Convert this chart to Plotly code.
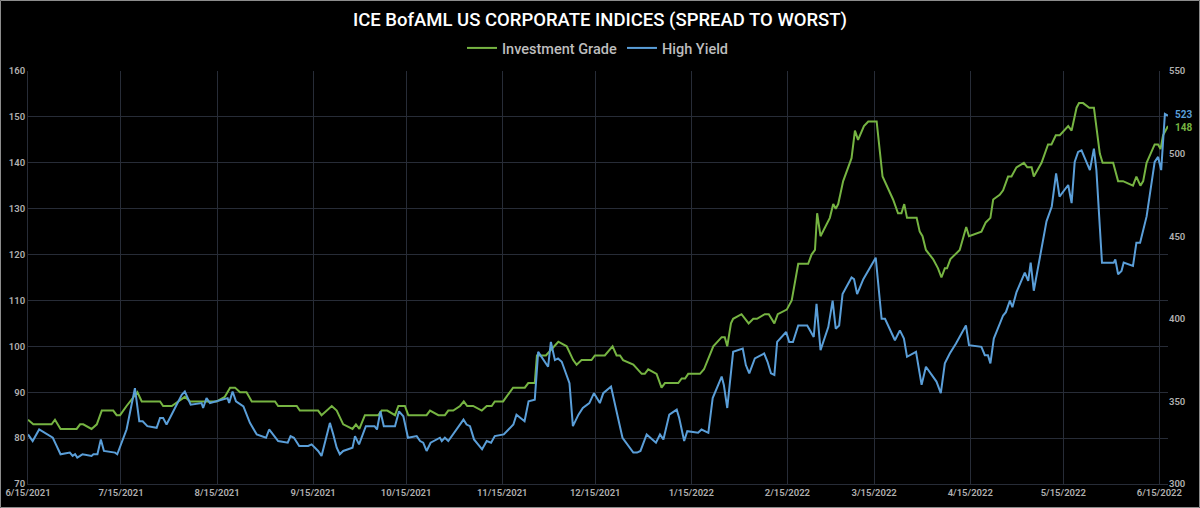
import datetime as dt
import plotly.graph_objects as go

# ---- data ----
start_date = dt.datetime(2021, 6, 15)

# Investment Grade: days after 2021-06-15, spread (bp)
ig_day = [0, 1.7, 7.6, 8.7, 10.5, 15.7, 16.8, 17.8, 20.5, 22.2, 23.8, 27.5, 28.6, 29.7, 31.8, 35.3, 36.7,
          42.6, 43.6, 46.4, 50.6, 52.3, 60.9, 63.5, 65.2, 66.8, 68.4, 70.5, 72.2, 79.7, 80.7, 86.7, 87.7,
          93.6, 94.7, 98.0, 99.6, 101.7, 104.7, 105.8, 106.9, 108.7, 113.0, 114.1, 115.9, 118.4, 119.5,
          121.6, 122.7, 128.6, 129.7, 132.4, 134.5, 135.6, 137.2, 139.4, 140.6, 141.7, 143.6, 146.4, 148.0,
          149.6, 150.6, 153.3, 156.5, 160.3, 161.4, 163.5, 164.2, 167.1, 171.1, 173.8, 175.9, 177.0, 178.6,
          181.8, 182.9, 186.1, 188.6, 189.9, 191.0, 192.0, 195.3, 198.0, 199.0, 200.1, 202.8, 204.4, 205.5,
          209.8, 210.9, 212.0, 213.0, 216.8, 218.1, 219.4, 221.1, 223.8, 224.8, 225.6, 226.8, 227.5, 230.2,
          232.5, 234.0, 235.2, 237.7, 239.0, 240.8, 241.9, 244.8, 246.4, 248.5, 251.7, 252.8, 253.9, 254.6,
          255.7, 258.7, 259.8, 260.6, 261.4, 263.0, 265.7, 266.8, 267.8, 269.7, 271.1, 273.8, 275.7, 277.0,
          279.1, 280.7, 281.8, 282.7, 283.6, 286.7, 287.7, 288.6, 289.7, 292.0, 293.6, 294.7, 295.8, 296.5,
          297.6, 300.6, 302.7, 303.6, 307.6, 309.0, 310.5, 311.4, 313.5, 314.6, 316.2, 317.3, 318.9, 321.3,
          322.4, 323.8, 324.5, 327.0, 329.1, 330.2, 331.6, 332.9, 335.6, 336.7, 338.3, 339.1, 340.4, 342.4,
          343.9, 345.8, 346.7, 350.1, 351.7, 353.3, 356.5, 357.6, 358.9, 359.8, 360.9, 363.5, 364.6, 365.4,
          366.2, 367.8]
ig_val = [84, 83, 83, 84, 82, 82, 83, 83, 82, 83, 86, 86, 85, 85, 87, 90, 88,
          88, 87, 87, 89, 88, 88, 89, 91, 91, 90, 90, 88, 88, 87, 87, 86,
          86, 85, 87, 86, 83, 82, 83, 82, 85, 85, 86, 86, 85, 87,
          87, 85, 85, 86, 85, 85, 86, 86, 87, 88, 87, 87, 86, 87,
          87, 88, 88, 91, 91, 92, 92, 98, 98, 101, 100, 97, 96, 97,
          97, 98, 98, 100, 98, 98, 97, 96, 94, 94, 95, 94, 91, 92,
          92, 93, 93, 94, 94, 95, 97, 100, 102, 102, 100, 105, 106, 107,
          105, 106, 106, 107, 107, 105, 107, 108, 110, 118, 118, 120, 121, 129,
          124, 128, 131, 130, 131, 136, 141, 147, 145, 148, 149, 149, 137, 135,
          132, 129, 129, 131, 128, 128, 125, 124, 121, 119, 117, 115, 117, 117,
          119, 121, 126, 124, 125, 127, 128, 132, 133, 134, 137, 137, 139, 140,
          139, 139, 137, 140, 144, 144, 146, 146, 148, 147, 152, 153, 153, 152,
          152, 142, 140, 140, 136, 136, 135, 137, 135, 136, 140, 144, 144, 143,
          146, 148]

# High Yield: days after 2021-06-15, spread (bp)
hy_day = [0, 1.5, 3.6, 6.0, 6.9, 8.0, 9.0, 10.5, 13.5, 14.4, 15.2, 15.9, 16.8, 17.6, 20.5, 21.1, 22.4,
          23.5, 24.5, 28.1, 28.8, 30.2, 31.8, 34.5, 35.9, 37.0, 38.5, 41.5, 42.6, 43.6, 44.7, 49.6, 50.6,
          52.5, 56.0, 56.5, 57.6, 58.7, 64.4, 64.9, 66.0, 67.1, 69.5, 71.6, 73.8, 76.8, 77.8, 80.7, 83.8,
          84.7, 85.8, 87.5, 90.4, 91.5, 93.6, 94.7, 97.4, 98.5, 99.6, 100.6, 101.7, 104.7, 105.5, 106.8,
          108.4, 109.0, 111.8, 112.6, 113.7, 114.8, 118.4, 119.7, 121.1, 122.6, 125.4, 126.5, 127.5, 128.6,
          129.9, 132.9, 133.5, 134.5, 135.6, 140.5, 141.5, 142.6, 143.9, 146.5, 148.0, 149.4, 150.6, 153.5,
          156.6, 157.6, 160.2, 161.5, 163.5, 164.6, 167.8, 168.7, 170.0, 171.0, 172.2, 174.7, 175.8, 177.6,
          179.0, 181.1, 182.6, 184.5, 185.6, 188.1, 190.0, 191.8, 195.3, 196.5, 197.6, 199.6, 202.6, 203.9,
          205.0, 206.9, 209.3, 210.1, 211.7, 212.7, 216.2, 217.3, 219.5, 220.9, 223.8, 224.5, 225.6, 227.5,
          230.6, 231.6, 232.7, 234.5, 237.5, 238.6, 239.7, 240.8, 241.7, 244.6, 245.6, 246.8, 248.5, 251.4,
          253.5, 254.4, 255.7, 258.2, 259.6, 260.6, 261.7, 262.8, 265.7, 266.5, 267.5, 269.5, 273.5, 274.6,
          275.4, 276.5, 279.7, 281.3, 282.6, 283.6, 286.5, 288.3, 289.7, 293.1, 294.5, 295.8, 297.4, 299.4,
          302.6, 303.6, 307.6, 308.7, 309.7, 310.5, 311.6, 314.6, 315.5, 316.8, 317.6, 318.9, 321.6, 322.7,
          323.5, 324.5, 326.5, 328.6, 330.3, 331.7, 332.8, 335.6, 336.7, 337.7, 338.8, 339.9, 342.6, 343.9,
          344.7, 346.5, 350.3, 350.8, 351.7, 352.8, 353.5, 356.5, 357.6, 358.8, 360.9, 363.5, 364.6, 365.6,
          366.8, 367.8]
hy_val = [330, 326, 333, 330, 329, 328, 324, 318, 319, 317, 318, 316, 317, 318, 317, 318, 318,
          327, 320, 319, 318, 325, 333, 358, 338, 338, 335, 334, 340, 340, 336, 354, 356,
          348, 349, 346, 352, 349, 352, 349, 356, 350, 347, 337, 330, 328, 333, 326, 325,
          329, 328, 323, 323, 324, 320, 317, 337, 330, 322, 318, 320, 322, 329, 324,
          333, 335, 335, 333, 344, 335, 335, 344, 341, 328, 329, 326, 325, 320,
          325, 328, 326, 328, 326, 339, 336, 335, 327, 321, 326, 325, 329, 330,
          336, 342, 338, 350, 351, 380, 371, 386, 375, 376, 374, 361, 335, 342,
          346, 349, 355, 349, 355, 359, 343, 328, 319, 319, 320, 330, 325, 330,
          327, 342, 345, 340, 326, 332, 331, 333, 331, 352, 365, 360, 346, 380,
          382, 372, 367, 376, 379, 374, 367, 366, 386, 392, 386, 386, 396, 396,
          389, 409, 381, 395, 411, 394, 396, 415, 425, 424, 415, 424, 437, 417,
          400, 400, 387, 393, 388, 377, 380, 360, 371, 362, 355, 373, 379, 385,
          396, 384, 383, 378, 378, 373, 388, 402, 404, 411, 407, 416, 428, 423,
          434, 417, 438, 459, 468, 488, 474, 481, 470, 495, 501, 502, 490, 503,
          490, 434, 434, 436, 427, 429, 434, 432, 446, 446, 462, 495, 498, 490,
          524, 523]

series_names = ["Investment Grade", "High Yield"]
title_text = "ICE BofAML US CORPORATE INDICES (SPREAD TO WORST)"

# ---- styling ----
GREEN = "#76b442"
BLUE = "#5a9ed8"
GRID = "#272c37"
TICK = "#b0b0b0"
FONT = "Roboto"

ig_dates = [start_date + dt.timedelta(days=d) for d in ig_day]
hy_dates = [start_date + dt.timedelta(days=d) for d in hy_day]

fig = go.Figure()
fig.add_trace(go.Scatter(x=ig_dates, y=ig_val, name=series_names[0], mode="lines",
                         line=dict(color=GREEN, width=2), yaxis="y"))
fig.add_trace(go.Scatter(x=hy_dates, y=hy_val, name=series_names[1], mode="lines",
                         line=dict(color=BLUE, width=2), yaxis="y2"))

# end-of-series value labels
fig.add_annotation(x=hy_dates[-1], y=hy_val[-1], yref="y2", text=f"<b>{hy_val[-1]}</b>",
                   showarrow=False, xanchor="left", xshift=5, yshift=1,
                   font=dict(color=BLUE, size=10, family=FONT))
fig.add_annotation(x=ig_dates[-1], y=ig_val[-1], yref="y", text=f"<b>{ig_val[-1]}</b>",
                   showarrow=False, xanchor="left", xshift=5, yshift=-1,
                   font=dict(color=GREEN, size=10, family=FONT))

W, H = 1200, 508
ml, mr, mt, mb = 28, 32, 71, 24
pw, ph = W - ml - mr, H - mt - mb

fig.update_layout(
    width=W, height=H,
    margin=dict(l=ml, r=mr, t=mt, b=mb, autoexpand=False),
    paper_bgcolor="#000000", plot_bgcolor="#000000",
    font=dict(family=FONT, color=TICK),
    title=dict(text=title_text, x=0.5, xref="container", xanchor="center",
               y=1 - 20 / H, yref="container", yanchor="middle",
               font=dict(family=FONT, size=18.5, color="#ffffff", weight=500)),
    legend=dict(orientation="h", x=0.5, xanchor="center", xref="paper",
                y=1 - 48 / H, yref="container", yanchor="middle",
                font=dict(family=FONT, size=14.5, color="#bdbdbd", weight=500),
                itemwidth=30, bgcolor="rgba(0,0,0,0)", traceorder="normal"),
    showlegend=True,
    xaxis=dict(type="date", range=[ig_dates[0], ig_dates[-1]],
               tick0="2021-06-15", dtick="M1", tickformat="%-m/%-d/%Y",
               showgrid=True, gridcolor=GRID, gridwidth=1,
               showline=True, linecolor=GRID, linewidth=1,
               ticks="", tickfont=dict(size=9.5, color=TICK, weight=600), zeroline=False),
    yaxis=dict(range=[70, 160], dtick=10, showgrid=True, gridcolor=GRID, gridwidth=1,
               showline=True, linecolor=GRID, ticks="", zeroline=False,
               tickfont=dict(size=9.5, color=TICK, weight=600)),
    yaxis2=dict(range=[300, 550], dtick=50, overlaying="y", side="right",
                showgrid=False, zeroline=False, ticks="", showline=False,
                tickfont=dict(size=9.5, color=TICK, weight=600)),
    hovermode=False,
)

# thin light frame around the whole image
fig.add_shape(type="rect", xref="paper", yref="paper", layer="below",
              x0=-(ml - 0.5) / pw, x1=1 + (mr - 0.5) / pw,
              y0=-(mb - 0.5) / ph, y1=1 + (mt - 0.5) / ph,
              line=dict(color="#8c8c8c", width=1), fillcolor="rgba(0,0,0,0)")

fig.write_html("out.html", config={"displayModeBar": False},
               post_script="document.body.style.margin='0';document.body.style.padding='0';")
